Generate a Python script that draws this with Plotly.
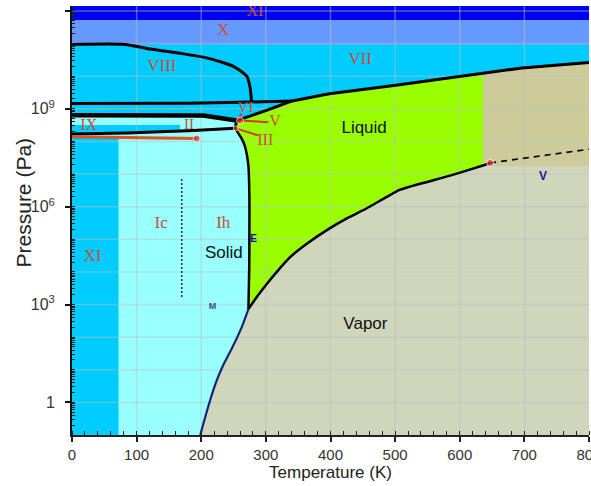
import numpy as np
import plotly.graph_objects as go

# ---------------- data (T in K, pressure as log10(P / Pa)) ----------------
SUBLIM_T = [198.5, 204.0, 213.5, 223.0, 233.0, 248.0, 262.5, 273.0]
SUBLIM_LOGP = [-1.0, -0.6, 0.05, 0.62, 1.1, 1.68, 2.3, 2.86]

MELT_T = [273.0, 274.3, 274.5, 274.5, 273.0, 268.0, 263.0, 252.3]
MELT_LOGP = [2.86, 4.2, 5.22, 6.24, 7.24, 7.82, 8.07, 8.40]

VI_LIQ_T = [252.3, 255.0, 301.0, 340.6]
VI_LIQ_LOGP = [8.40, 8.64, 8.95, 9.24]

VII_LIQ_T = [340.6, 398.0, 501.0, 599.0, 696.0, 800.0]
VII_LIQ_LOGP = [9.24, 9.46, 9.72, 9.98, 10.25, 10.42]

LV_T = [273.0, 285.9, 301.4, 316.9, 337.5, 363.3, 394.3, 425.2, 456.2, 487.2,
        507.7, 585.1, 635.8, 647.1]
LV_LOGP = [2.86, 3.23, 3.63, 4.0, 4.45, 4.86, 5.28, 5.64, 5.95, 6.30,
           6.52, 6.95, 7.26, 7.34]

SC_T = [647.1, 800.0]
SC_LOGP = [7.34, 7.76]

VIII_T = [0.0, 82.0, 120.7, 167.0, 208.5, 249.7, 270.4, 275.5, 278.0]
VIII_LOGP = [10.97, 10.97, 10.83, 10.70, 10.56, 10.30, 10.0, 9.66, 9.19]

VI_VII_T = [0.0, 180.0, 260.0, 340.6]
VI_VII_LOGP = [9.16, 9.17, 9.20, 9.24]

VI_II_T = [0.0, 203.0, 255.0]
VI_II_LOGP = [8.80, 8.79, 8.64]

II_IH_T = [0.0, 85.0, 188.0, 240.0, 252.3]
II_IH_LOGP = [8.23, 8.26, 8.33, 8.39, 8.40]

IX_LINE_T = [0.0, 193.0]
IX_LINE_LOGP = [8.14, 8.09]

IC_IH_T = [169.8, 169.8]
IC_IH_LOGP = [3.23, 6.85]

XI_LOW_T_MAX = 72.0
IX_BAND_T = [0.0, 167.0]
IX_BAND_LOGP_TOP = 8.50
SC_REGION_T = 636.0
SC_REGION_LOGP = 7.24
BAND_X_LOGP = [10.97, 11.72]
BAND_XI_LOGP = [11.72, 12.15]

POINTS_T = [193.0, 647.1, 260.0, 253.5]
POINTS_LOGP = [8.09, 7.34, 8.64, 8.40]

ARROWS = [  # (T0, logP0, T1, logP1)
    (303.9, 8.59, 262.7, 8.64),
    (288.4, 8.18, 253.9, 8.40),
    (262.7, 8.85, 257.4, 8.69),
]

SERIF_LABELS = [
    ("XI", 283, 11.98, 16), ("X", 234, 11.4, 17), ("VIII", 139, 10.30, 17),
    ("VII", 446, 10.50, 17), ("VI", 268.5, 9.03, 15), ("V", 314, 8.60, 16),
    ("III", 299, 8.02, 16), ("IX", 26, 8.46, 16), ("II", 181, 8.49, 15),
    ("Ic", 138, 5.48, 17), ("Ih", 234, 5.48, 17), ("XI", 32, 4.45, 17),
]
SANS_LABELS = [("Solid", 235, 4.57), ("Liquid", 452, 8.38), ("Vapor", 454, 2.39)]
SMALL_LABELS = [("E", 281, 4.98, "#1010a8", 10), ("M", 217.5, 2.94, "#3a4a88", 9),
                ("V", 729, 6.9, "#1a1a9a", 12)]

X_TICKS = [0, 100, 200, 300, 400, 500, 600, 700, 800]
Y_DECADES = list(range(-1, 13))
Y_LABELLED = {0: "1", 3: "10<sup>3</sup>", 6: "10<sup>6</sup>",
              9: "10<sup>9</sup>", 12: "10<sup>12</sup>"}

X_RANGE = [0, 800]
Y_RANGE = [-1.0, 12.15]

C_VAPOR = "#d0d6bc"
C_LIQ = "#99ff00"
C_SC = "#cdcb9a"
C_CYAN = "#00ccff"
C_LCYAN = "#99ffff"
C_X = "#6699ff"
C_XI = "#0000f0"
C_RED = "#c8503c"


def P(a):
    return 10 ** np.asarray(a, dtype=float)


fig = go.Figure()


def poly(t, lp, color):
    fig.add_trace(go.Scatter(x=list(t), y=P(lp), mode="lines", fill="toself",
                             fillcolor=color, line=dict(width=0, color=color),
                             hoverinfo="skip", showlegend=False))


def line(t, lp, color="black", width=2.5, dash=None, shape="linear"):
    fig.add_trace(go.Scatter(x=list(t), y=P(lp), mode="lines",
                             line=dict(color=color, width=width, dash=dash, shape=shape,
                                       smoothing=0.6),
                             hoverinfo="skip", showlegend=False))


top = Y_RANGE[1] + 0.5
bot = Y_RANGE[0]
x0 = X_RANGE[0] - 10
x1 = X_RANGE[1] + 10

# liquid
t = LV_T + [LV_T[-1], MELT_T[-1]] + MELT_T[::-1]
lp = LV_LOGP + [top, top] + MELT_LOGP[::-1]
poly(t, lp, C_LIQ)
# supercritical
poly([SC_REGION_T, x1, x1, SC_REGION_T], [SC_REGION_LOGP, SC_REGION_LOGP, top, top], C_SC)
# high-pressure ice (cyan) above the ice boundary
bt = SUBLIM_T + MELT_T[1:] + VI_LIQ_T[1:] + VII_LIQ_T[1:]
bl = SUBLIM_LOGP + MELT_LOGP[1:] + VI_LIQ_LOGP[1:] + VII_LIQ_LOGP[1:]
poly(bt + [x1, x1, x0, x0], bl + [VII_LIQ_LOGP[-1], top, top, bot - 0.5], C_CYAN)
# top bands
poly([x0, x1, x1, x0], [BAND_X_LOGP[0], BAND_X_LOGP[0], BAND_X_LOGP[1], BAND_X_LOGP[1]], C_X)
poly([x0, x1, x1, x0], [BAND_XI_LOGP[0], BAND_XI_LOGP[0], top, top], C_XI)
# Ih / Ic / II region (light cyan)
t = [XI_LOW_T_MAX, XI_LOW_T_MAX, x0, x0] + VI_II_T[1:] + MELT_T[::-1] + SUBLIM_T[::-1]
lp = [bot - 0.5, IX_LINE_LOGP[0], IX_LINE_LOGP[0], VI_II_LOGP[0]] + VI_II_LOGP[1:] + \
    MELT_LOGP[::-1] + SUBLIM_LOGP[::-1]
poly(t + [SUBLIM_T[0]], lp + [bot - 0.5], C_LCYAN)
# IX band
ix_low = np.interp(IX_BAND_T, II_IH_T, II_IH_LOGP)
poly([x0, IX_BAND_T[1], IX_BAND_T[1], x0],
     [IX_BAND_LOGP_TOP, IX_BAND_LOGP_TOP, ix_low[1], ix_low[0]], C_CYAN)

# grid overlay built from tick values
gx, gy = [], []
for v in X_TICKS[1:-1]:
    gx += [v, v, None]
    gy += [10 ** bot, 10 ** top, None]
for d in Y_DECADES[1:]:
    gx += [x0, x1, None]
    gy += [10.0 ** d, 10.0 ** d, None]
fig.add_trace(go.Scatter(x=gx, y=gy, mode="lines", line=dict(color="rgba(185,192,185,0.45)", width=1.5),
                         hoverinfo="skip", showlegend=False))

# phase boundaries
line(VIII_T, VIII_LOGP, width=3, shape="spline")
line(VI_VII_T, VI_VII_LOGP, width=3)
line(VII_LIQ_T, VII_LIQ_LOGP, width=3)
line(VI_LIQ_T, VI_LIQ_LOGP, width=3)
line(VI_II_T, VI_II_LOGP, width=4.5)
line(II_IH_T, II_IH_LOGP, width=3)
line(MELT_T, MELT_LOGP, width=2.5, shape="spline")
line(LV_T, LV_LOGP, width=2.5, shape="spline")
line(SUBLIM_T, SUBLIM_LOGP, color="#14237a", width=2.2, shape="spline")
line(SC_T, SC_LOGP, width=1.6, dash="6px,5px")
line(IX_LINE_T, IX_LINE_LOGP, color="#d9541e", width=3)
line(IC_IH_T, IC_IH_LOGP, color="#333333", width=1.5, dash="2px,2px")
for a in ARROWS:
    line([a[0], a[2]], [a[1], a[3]], color="#d03a2a", width=2)

fig.add_trace(go.Scatter(x=POINTS_T, y=P(POINTS_LOGP), mode="markers",
                         marker=dict(color="#e0302a", size=[7, 7, 7, 5]),
                         hoverinfo="skip", showlegend=False))

for txt, tt, lpv, sz in SERIF_LABELS:
    fig.add_trace(go.Scatter(x=[tt], y=[10 ** lpv], mode="text", text=[txt],
                             textfont=dict(family="Liberation Serif", size=sz, color=C_RED),
                             hoverinfo="skip", showlegend=False))
for txt, tt, lpv in SANS_LABELS:
    fig.add_trace(go.Scatter(x=[tt], y=[10 ** lpv], mode="text", text=[txt],
                             textfont=dict(family="Liberation Sans", size=17, color="#111111"),
                             hoverinfo="skip", showlegend=False))
for txt, tt, lpv, col, sz in SMALL_LABELS:
    fig.add_trace(go.Scatter(x=[tt], y=[10 ** lpv], mode="text", text=["<b>" + txt + "</b>"],
                             textfont=dict(family="Liberation Sans", size=sz, color=col),
                             hoverinfo="skip", showlegend=False))

lab_dec = sorted(Y_LABELLED)
fig.update_layout(
    width=591, height=486,
    margin=dict(l=72, r=2, t=6, b=51, autoexpand=False),
    paper_bgcolor="white", plot_bgcolor=C_VAPOR,
    font=dict(family="Liberation Sans", color="#333333"),
    showlegend=False,
    xaxis=dict(
        range=X_RANGE, tickvals=X_TICKS, ticks="outside", ticklen=5, tickwidth=1.5,
        tickcolor="#222222", showline=True, linecolor="#222222", linewidth=1.5,
        showgrid=False, zeroline=False, tickfont=dict(size=15, color="#333333"),
        ticklabeloverflow="allow", automargin=False,
        minor=dict(dtick=20, ticks="inside", ticklen=4, tickwidth=1.2, tickcolor="#222222",
                   showgrid=False),
        title=dict(text="Temperature (K)", font=dict(size=17, color="#222222"), standoff=4),
    ),
    xaxis2=dict(
        overlaying="x", side="top", anchor="y", range=X_RANGE, showline=True,
        linecolor="#b8b8b8", linewidth=1.5, ticks="", showticklabels=False,
        showgrid=False, zeroline=False, automargin=False,
    ),
    yaxis=dict(
        type="log", range=Y_RANGE,
        tickvals=[10.0 ** d for d in lab_dec],
        ticktext=[Y_LABELLED[d] for d in lab_dec],
        ticks="outside", ticklen=5, tickwidth=2, tickcolor="#111111",
        showline=True, linecolor="#111111", linewidth=2, ticklabelstandoff=7,
        showgrid=False, zeroline=False, tickfont=dict(size=16, color="#333333"),
        automargin=False,
        minor=dict(dtick="D1", ticks="inside", ticklen=3, tickwidth=1, tickcolor="#222222",
                   showgrid=False),
    ),
    yaxis2=dict(
        type="log", range=Y_RANGE, overlaying="y", side="left", anchor="x",
        tickvals=[10.0 ** d for d in Y_DECADES], ticks="outside", ticklen=5, tickwidth=2,
        tickcolor="#111111", showticklabels=False, showgrid=False, zeroline=False,
        showline=False, automargin=False,
    ),
    annotations=[dict(
        text="Pressure (Pa)", textangle=-90, xref="paper", yref="paper",
        x=0, y=0.542, xanchor="center", yanchor="middle", xshift=-49,
        showarrow=False, font=dict(size=21, color="#222222"),
    )],
)

fig.write_html("out.html", config={"displayModeBar": False},
               post_script="document.body.style.margin='0';")
